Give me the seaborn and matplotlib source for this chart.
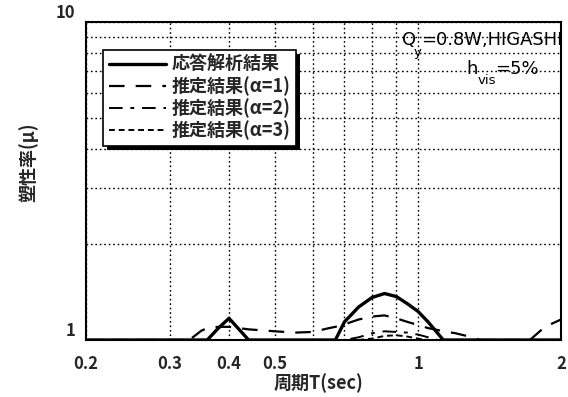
import numpy as np
import pandas as pd
import matplotlib
matplotlib.use("Agg")
import matplotlib.pyplot as plt
import matplotlib.ticker as mticker
from matplotlib.patches import Rectangle
import seaborn as sns

# Period T (sec)
period = [0.20, 0.30, 0.33, 0.35, 0.36, 0.38, 0.40, 0.42, 0.44, 0.46, 0.50,
          0.55, 0.60, 0.65, 0.67, 0.70, 0.75, 0.80, 0.85, 0.90, 0.95, 1.00,
          1.05, 1.10, 1.13, 1.20, 1.30, 1.35, 1.50, 1.72, 1.85, 1.95, 2.00]

# Ductility ratio for each series
mu_response = [1.00, 1.00, 1.00, 1.00, 1.00, 1.09, 1.17, 1.08, 1.00, 1.00, 1.00,
               1.00, 1.00, 1.00, 1.00, 1.14, 1.27, 1.36, 1.40, 1.37, 1.30, 1.23,
               1.14, 1.05, 1.00, 1.00, 1.00, 1.00, 1.00, 1.00, 1.00, 1.00, 1.00]
mu_alpha1 = [1.00, 1.00, 1.00, 1.07, 1.09, 1.10, 1.10, 1.09, 1.08, 1.075, 1.065,
             1.055, 1.06, 1.09, 1.10, 1.12, 1.16, 1.185, 1.195, 1.17, 1.14, 1.115,
             1.09, 1.075, 1.065, 1.05, 1.02, 1.00, 1.00, 1.00, 1.10, 1.14, 1.16]
mu_alpha2 = [1.00, 1.00, 1.00, 1.00, 1.00, 1.00, 1.00, 1.00, 1.00, 1.00, 1.00,
             1.00, 1.00, 1.00, 1.00, 1.00, 1.02, 1.05, 1.065, 1.06, 1.055, 1.04,
             1.02, 1.00, 1.00, 1.00, 1.00, 1.00, 1.00, 1.00, 1.00, 1.00, 1.00]
mu_alpha3 = [1.00, 1.00, 1.00, 1.00, 1.00, 1.00, 1.00, 1.00, 1.00, 1.00, 1.00,
             1.00, 1.00, 1.00, 1.00, 1.00, 1.00, 1.01, 1.03, 1.035, 1.025, 1.01,
             1.00, 1.00, 1.00, 1.00, 1.00, 1.00, 1.00, 1.00, 1.00, 1.00, 1.00]

series_labels = ["応答解析結果", "推定結果(α=1)", "推定結果(α=2)", "推定結果(α=3)"]
x_major = [0.2, 0.3, 0.4, 0.5, 1, 2]
x_major_labels = ["0.2", "0.3", "0.4", "0.5", "1", "2"]
x_minor = [0.6, 0.7, 0.8, 0.9]
y_major = [1, 10]
y_major_labels = ["1", "10"]
y_minor = [2, 3, 4, 5, 6, 7, 8, 9]

sns.set_theme(style="white")
plt.rcParams["font.family"] = ["Noto Sans CJK JP", "DejaVu Sans"]

df = pd.DataFrame({
    "T": period * 4,
    "mu": mu_response + mu_alpha1 + mu_alpha2 + mu_alpha3,
    "series": np.repeat(series_labels, len(period)),
})

fig = plt.figure(figsize=(5.68, 3.97), dpi=100)
ax = fig.add_axes([86 / 568, 1 - 340 / 397, 475 / 568, 318 / 397])

styles = [
    dict(lw=2.4, ls="-"),
    dict(lw=1.6, ls=(0, (7, 5))),
    dict(lw=1.4, ls=(0, (7, 4, 2, 4))),
    dict(lw=1.4, ls=(0, (3, 2))),
]
for name, st in zip(series_labels, styles):
    sub = df[df["series"] == name]
    sns.lineplot(data=sub, x="T", y="mu", ax=ax, color="black",
                 linewidth=st["lw"], linestyle=st["ls"], label=name,
                 estimator=None, sort=False)

ax.set_xscale("log")
ax.set_yscale("log")
ax.set_xlim(0.2, 2)
ax.set_ylim(1, 10)

ax.xaxis.set_major_locator(mticker.FixedLocator(x_major))
ax.xaxis.set_major_formatter(mticker.FixedFormatter(x_major_labels))
ax.xaxis.set_minor_locator(mticker.FixedLocator(x_minor))
ax.xaxis.set_minor_formatter(mticker.NullFormatter())
ax.yaxis.set_major_locator(mticker.FixedLocator(y_major))
ax.yaxis.set_major_formatter(mticker.FixedFormatter(y_major_labels))
ax.yaxis.set_minor_locator(mticker.FixedLocator(y_minor))
ax.yaxis.set_minor_formatter(mticker.NullFormatter())

ax.grid(True, which="both", color="black", linestyle=(0, (1.2, 2.0)), linewidth=1.0)
ax.tick_params(axis="both", which="both", direction="in", length=3, color="black")
ax.tick_params(axis="x", which="major", pad=11, labelsize=12)
ax.tick_params(axis="y", which="major", pad=8, labelsize=12)
for lab in ax.get_xticklabels() + ax.get_yticklabels():
    lab.set_fontweight("bold")
for lab in ax.get_yticklabels():
    lab.set_verticalalignment("bottom")

for sp in ax.spines.values():
    sp.set_color("black")
    sp.set_linewidth(1.5)
    sp.set_visible(True)

ax.set_xlabel("周期T(sec)", fontsize=13, fontweight="bold")
ax.set_ylabel("塑性率(μ)", fontsize=13, fontweight="bold")
ax.xaxis.set_label_coords(0.49, -0.105)
ax.yaxis.set_label_coords(-0.10, 0.56)

leg = ax.legend(loc="upper left", bbox_to_anchor=(0.036, 0.912), borderaxespad=0,
                handlelength=3.2, handletextpad=0.3, borderpad=0.3,
                labelspacing=0.12, frameon=True, fancybox=False,
                prop={"weight": "bold", "size": 13})
leg.get_frame().set_edgecolor("black")
leg.get_frame().set_linewidth(1.2)
leg.get_frame().set_alpha(1)

# Solid black drop shadow behind the legend box
fig.canvas.draw()
bb = leg.get_window_extent().transformed(ax.transAxes.inverted())
dx = 4 / 475
dy = 4 / 318
ax.add_patch(Rectangle((bb.x0 + dx, bb.y0 - dy), bb.width, bb.height,
                       transform=ax.transAxes, facecolor="black", edgecolor="none",
                       zorder=leg.get_zorder() - 0.1, clip_on=False))

# Condition annotation (clipped at the axes frame)
kw = dict(transform=ax.transAxes, va="center", ha="left", clip_on=True,
          family="DejaVu Sans", color="black")
ax.text(0.665, 0.943, "Q", fontsize=13, **kw)
ax.text(0.690, 0.903, "y", fontsize=9.5, **kw)
ax.text(0.706, 0.943, "=0.8W,HIGASHI", fontsize=12.9, **kw)
ax.text(0.800, 0.852, "h", fontsize=13, **kw)
ax.text(0.825, 0.815, "vis", fontsize=9.5, **kw)
ax.text(0.862, 0.852, "=5%", fontsize=13, **kw)

fig.savefig("out.png", dpi=100)
